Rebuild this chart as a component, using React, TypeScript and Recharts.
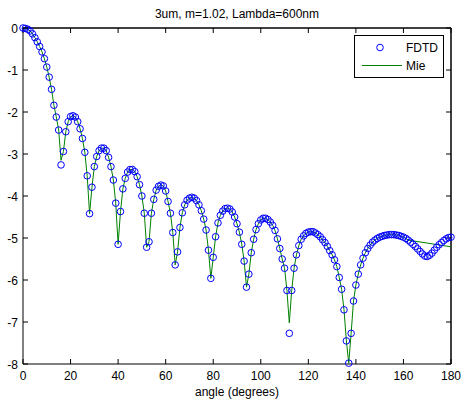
import React from 'react';
import { ComposedChart, Line, XAxis, YAxis, Legend, ReferenceLine, ReferenceDot } from 'recharts';

const title = '3um, m=1.02, Lambda=600nm';
const xLabel = 'angle (degrees)';
const seriesNames = ['FDTD', 'Mie'];
const xTicks = [0, 20, 40, 60, 80, 100, 120, 140, 160, 180];
const yTicks = [-8, -7, -6, -5, -4, -3, -2, -1, 0];

const angles = [
  0, 1, 2, 3, 4, 5, 6, 7, 8, 9, 10, 11, 12, 13, 14, 15, 16, 17, 18, 19,
  20, 21, 22, 23, 24, 25, 26, 27, 28, 29, 30, 31, 32, 33, 34, 35, 36, 37, 38, 39,
  40, 41, 42, 43, 44, 45, 46, 47, 48, 49, 50, 51, 52, 53, 54, 55, 56, 57, 58, 59,
  60, 61, 62, 63, 64, 65, 66, 67, 68, 69, 70, 71, 72, 73, 74, 75, 76, 77, 78, 79,
  80, 81, 82, 83, 84, 85, 86, 87, 88, 89, 90, 91, 92, 93, 94, 95, 96, 97, 98, 99,
  100, 101, 102, 103, 104, 105, 106, 107, 108, 109, 110, 111, 112, 113, 114, 115, 116, 117, 118, 119,
  120, 121, 122, 123, 124, 125, 126, 127, 128, 129, 130, 131, 132, 133, 134, 135, 136, 137, 138, 139,
  140, 141, 142, 143, 144, 145, 146, 147, 148, 149, 150, 151, 152, 153, 154, 155, 156, 157, 158, 159,
  160, 161, 162, 163, 164, 165, 166, 167, 168, 169, 170, 171, 172, 173, 174, 175, 176, 177, 178, 179,
  180,
];

const fdtd = [
  0.0, -0.01, -0.03, -0.07, -0.14, -0.23, -0.33, -0.44, -0.57, -0.73,
  -0.93, -1.17, -1.46, -1.84, -2.12, -2.43, -3.26, -2.94, -2.47, -2.23,
  -2.11, -2.09, -2.12, -2.23, -2.4, -2.63, -2.96, -3.52, -4.42, -3.79,
  -3.3, -3.06, -2.92, -2.86, -2.86, -2.92, -3.08, -3.3, -3.62, -4.17,
  -5.15, -4.37, -3.83, -3.58, -3.43, -3.37, -3.37, -3.42, -3.54, -3.73,
  -4.0, -4.41, -5.22, -5.09, -4.41, -4.08, -3.86, -3.77, -3.74, -3.76,
  -3.88, -4.13, -4.41, -4.87, -5.64, -5.33, -4.75, -4.4, -4.21, -4.1,
  -4.05, -4.03, -4.05, -4.11, -4.21, -4.35, -4.55, -4.81, -5.29, -5.96,
  -5.46, -4.97, -4.64, -4.46, -4.36, -4.3, -4.29, -4.31, -4.38, -4.5,
  -4.66, -4.86, -5.15, -5.55, -6.17, -5.86, -5.35, -5.03, -4.8, -4.66,
  -4.57, -4.53, -4.53, -4.56, -4.62, -4.7, -4.82, -5.02, -5.25, -5.5,
  -5.72, -6.25, -7.27, -6.25, -5.72, -5.4, -5.18, -5.03, -4.95, -4.89,
  -4.86, -4.85, -4.85, -4.88, -4.92, -4.97, -5.04, -5.11, -5.2, -5.3,
  -5.4, -5.52, -5.68, -5.94, -6.22, -6.71, -7.45, -7.98, -7.27, -6.5,
  -6.12, -5.86, -5.64, -5.48, -5.35, -5.25, -5.17, -5.1, -5.05, -5.01,
  -4.98, -4.96, -4.94, -4.93, -4.92, -4.92, -4.92, -4.93, -4.94, -4.96,
  -4.98, -5.01, -5.05, -5.1, -5.15, -5.2, -5.26, -5.32, -5.38, -5.43,
  -5.44, -5.41, -5.36, -5.29, -5.22, -5.16, -5.11, -5.06, -5.02, -4.99,
  -4.98,
];

const mie = [
  0.0, -0.01, -0.03, -0.07, -0.14, -0.23, -0.33, -0.44, -0.57, -0.73,
  -0.93, -1.17, -1.46, -1.84, -2.12, -2.43, -3.15, -2.94, -2.47, -2.23,
  -2.11, -2.09, -2.12, -2.23, -2.4, -2.63, -2.96, -3.52, -4.42, -3.79,
  -3.3, -3.06, -2.92, -2.86, -2.86, -2.92, -3.08, -3.3, -3.62, -4.17,
  -5.15, -4.37, -3.83, -3.58, -3.43, -3.37, -3.37, -3.42, -3.54, -3.73,
  -4.0, -4.41, -5.22, -5.09, -4.41, -4.08, -3.86, -3.77, -3.74, -3.76,
  -3.88, -4.13, -4.41, -4.87, -5.64, -5.33, -4.75, -4.4, -4.21, -4.1,
  -4.05, -4.03, -4.05, -4.11, -4.21, -4.35, -4.55, -4.81, -5.29, -5.96,
  -5.46, -4.97, -4.64, -4.46, -4.36, -4.3, -4.29, -4.31, -4.38, -4.5,
  -4.66, -4.86, -5.15, -5.55, -6.17, -5.86, -5.35, -5.03, -4.8, -4.66,
  -4.57, -4.53, -4.53, -4.56, -4.62, -4.7, -4.82, -5.02, -5.25, -5.5,
  -5.72, -6.25, -7.02, -6.25, -5.72, -5.4, -5.18, -5.03, -4.95, -4.89,
  -4.86, -4.85, -4.85, -4.88, -4.92, -4.97, -5.04, -5.11, -5.2, -5.3,
  -5.4, -5.52, -5.68, -5.94, -6.22, -6.71, -7.45, -7.98, -7.27, -6.5,
  -6.12, -5.86, -5.64, -5.48, -5.35, -5.25, -5.17, -5.1, -5.05, -5.01,
  -4.98, -4.96, -4.94, -4.93, -4.92, -4.92, -4.92, -4.93, -4.94, -4.96,
  -4.98, -5.01, -5.05, null, null, null, null, null, null, null,
  null, null, null, null, null, null, null, null, null, null,
  -5.21,
];

const data = angles.map((a, i) => ({ angle: a, fdtd: fdtd[i], mie: mie[i] }));

const FONT = '"Liberation Sans", Arial, Helvetica, sans-serif';
const BLUE = '#0000ff';
const GREEN = '#008000';
const FRAME = '#000';
const TICK = 5;

const BottomTick = (props: any) => {
  const { x, y, payload } = props;
  return (
    <g>
      <line x1={x} x2={x} y1={y} y2={y - TICK} stroke={FRAME} strokeWidth={1} />
      <text x={x} y={y + 16} textAnchor="middle" fontSize={12} fill="#000" fontFamily={FONT}>
        {payload.value}
      </text>
    </g>
  );
};

const LeftTick = (props: any) => {
  const { x, y, payload } = props;
  return (
    <g>
      <line x1={x} x2={x + TICK} y1={y} y2={y} stroke={FRAME} strokeWidth={1} />
      <text x={x - 5} y={y + 4.5} textAnchor="end" fontSize={12} fill="#000" fontFamily={FONT}>
        {payload.value}
      </text>
    </g>
  );
};

const TopTickShape = (props: any) => {
  const { cx, cy } = props;
  return <line x1={cx} x2={cx} y1={cy} y2={cy + TICK} stroke={FRAME} strokeWidth={1} />;
};

const RightTickShape = (props: any) => {
  const { cx, cy } = props;
  return <line x1={cx} x2={cx - TICK} y1={cy} y2={cy} stroke={FRAME} strokeWidth={1} />;
};

const renderLegend = () => (
  <svg width={90} height={43} style={{ display: 'block' }}>
    <rect x={0.5} y={0.5} width={89} height={42} fill="#fff" stroke="#000" />
    <circle cx={26} cy={12.5} r={3.3} fill="none" stroke={BLUE} />
    <text x={52} y={17} fontSize={12} fill="#000" fontFamily={FONT}>{seriesNames[0]}</text>
    <line x1={8} x2={48} y1={30.5} y2={30.5} stroke={GREEN} />
    <text x={52} y={35} fontSize={12} fill="#000" fontFamily={FONT}>{seriesNames[1]}</text>
  </svg>
);

const xMax = xTicks[xTicks.length - 1];
const yMax = yTicks[yTicks.length - 1];

export default function App() {
  return (
    <div
      style={{
        position: 'absolute',
        left: 0,
        top: 0,
        width: 462,
        height: 405,
        background: '#fff',
        fontFamily: FONT,
      }}
    >
      <div
        style={{
          position: 'absolute',
          left: 23,
          top: 8,
          width: 428,
          textAlign: 'center',
          fontSize: 12,
          lineHeight: '12px',
          color: '#000',
          zIndex: 2,
        }}
      >
        {title}
      </div>
      <ComposedChart
        width={462}
        height={405}
        data={data}
        margin={{ top: 28, right: 11, bottom: 0, left: 0 }}
      >
        <XAxis
          type="number"
          dataKey="angle"
          domain={[0, 180]}
          ticks={xTicks}
          interval={0}
          height={41}
          tickSize={0}
          tickMargin={0}
          stroke={FRAME}
          tick={<BottomTick />}
          label={{ value: xLabel, position: 'insideBottom', offset: 9, fill: '#000', fontSize: 12 }}
        />
        <YAxis
          type="number"
          domain={[-8, 0]}
          ticks={yTicks}
          interval={0}
          width={23}
          tickSize={0}
          tickMargin={0}
          stroke={FRAME}
          tick={<LeftTick />}
        />
        <ReferenceLine y={yMax} stroke={FRAME} strokeWidth={1.5} ifOverflow="visible" />
        <ReferenceLine x={xMax} stroke={FRAME} strokeWidth={1.5} ifOverflow="visible" />
        {xTicks.map((t) => (
          <ReferenceDot key={'tx' + t} x={t} y={yMax} r={1} ifOverflow="visible" shape={TopTickShape} />
        ))}
        {yTicks.map((t) => (
          <ReferenceDot key={'ry' + t} x={xMax} y={t} r={1} ifOverflow="visible" shape={RightTickShape} />
        ))}
        <Line
          dataKey="fdtd"
          name={seriesNames[0]}
          stroke="none"
          dot={{ r: 3.3, stroke: BLUE, strokeWidth: 1, fill: 'none' }}
          activeDot={false}
          isAnimationActive={false}
        />
        <Line
          dataKey="mie"
          name={seriesNames[1]}
          stroke={GREEN}
          strokeWidth={1}
          dot={false}
          activeDot={false}
          connectNulls
          isAnimationActive={false}
        />
        <Legend
          layout="horizontal"
          align="center"
          verticalAlign="middle"
          content={renderLegend}
          wrapperStyle={{ position: 'absolute', left: 354, top: 35, width: 90, height: 43 }}
        />
      </ComposedChart>
    </div>
  );
}
